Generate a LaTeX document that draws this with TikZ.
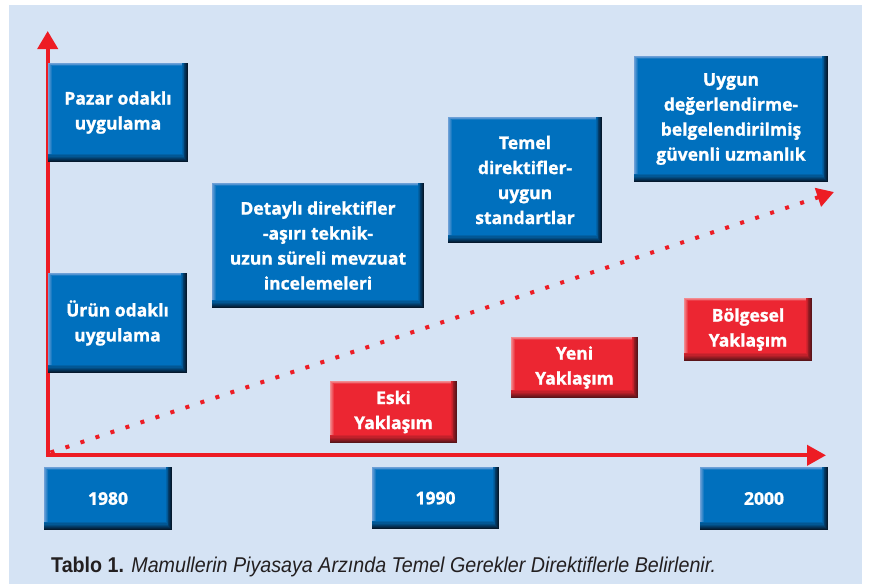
\documentclass[tikz,border=0pt]{standalone}
\usepackage{fontspec}
\usetikzlibrary{arrows.meta}
\newfontfamily\boxfam{Open Sans}[BoldFeatures={FakeBold=1.2}]
\newfontfamily\capfam{Liberation Sans}
\definecolor{bgblue}{RGB}{213,227,244}
\definecolor{boxblue}{RGB}{0,112,190}
\definecolor{boxlight}{RGB}{110,160,215}
\definecolor{boxdark}{RGB}{5,25,45}
\definecolor{boxred}{RGB}{236,38,50}
\definecolor{redlight}{RGB}{242,140,145}
\definecolor{reddark}{RGB}{90,20,25}
\definecolor{axisred}{RGB}{237,28,36}
\definecolor{capgray}{RGB}{35,31,32}
\newcommand\boxtext{\boxfam\bfseries\fontsize{17.5}{25}\selectfont}
\tikzset{
  bevelbox/.style n args={3}{rectangle, inner sep=0pt, text=white, align=center,
    font=\boxtext, fill=#1,
    path picture={
      \foreach \i in {0,...,7}{
        \pgfmathtruncatemacro\p{100*\i/7}
        \fill[#1!\p!#3] (path picture bounding box.north west) rectangle
          ([xshift=-0.9*\i pt, yshift=1.1*\i pt]path picture bounding box.south east);
      }
      \foreach \j in {0,...,4}{
        \pgfmathtruncatemacro\q{25*\j}
        \fill[#1!\q!#2] ([xshift=\j pt, yshift=-0.8*\j pt]path picture bounding box.north west) rectangle
          ([xshift=-6.3pt, yshift=7.7pt]path picture bounding box.south east);
      }
    }},
  bluebox/.style={bevelbox={boxblue}{boxlight}{boxdark}},
  redbox/.style={bevelbox={boxred}{redlight}{reddark}},
  axisline/.style={draw=axisred, line width=4pt, line join=miter,
    {Triangle[length=18pt,width=20pt]}-{Triangle[length=19pt,width=20pt]}},
  dotline/.style={draw=axisred, line width=4pt, dash pattern=on 4pt off 11.8pt,
    -{Triangle[length=17pt,width=19pt]}},
}
\begin{document}
\begin{tikzpicture}[x=1pt,y=-1pt]
\useasboundingbox (0,0) rectangle (872,584);
\fill[bgblue] (9,5) rectangle (862,584);
% axes
\coordinate (ytop) at (47.7,31);
\coordinate (orig) at (47.7,455.3);
\coordinate (xend) at (826,455.3);
\draw[axisline] (ytop) -- (orig) -- (xend);
\coordinate (dstart) at (50.5,452.5);
\coordinate (dend) at (834,192);
\draw[dotline] (dstart) -- (dend);
% blue boxes
\node[bluebox, minimum width=140pt, minimum height=99pt] (pazar) at (118,112.5) {Pazar odaklı\\uygulama};
\node[bluebox, minimum width=139pt, minimum height=100pt] (urun) at (117.5,323) {Ürün odaklı\\uygulama};
\node[bluebox, minimum width=212pt, minimum height=125pt] (detay) at (318,245.5) {Detaylı direktifler\\-aşırı teknik-\\uzun süreli mevzuat\\incelemeleri};
\node[bluebox, minimum width=154pt, minimum height=126pt] (temel) at (525,180) {Temel\\direktifler-\\uygun\\standartlar};
\node[bluebox, minimum width=194pt, minimum height=126pt] (uygun) at (731,119) {Uygun\\değerlendirme-\\belgelendirilmiş\\güvenli uzmanlık};
% red boxes
\node[redbox, minimum width=127pt, minimum height=62pt] (eski) at (393.5,412) {Eski\\Yaklaşım};
\node[redbox, minimum width=127pt, minimum height=61pt] (yeni) at (574.5,367.5) {Yeni\\Yaklaşım};
\node[redbox, minimum width=128pt, minimum height=63pt] (bolge) at (748,329.5) {Bölgesel\\Yaklaşım};
% years
\node[bluebox, minimum width=128pt, minimum height=63pt] (y1980) at (108,498.5) {1980};
\node[bluebox, minimum width=127pt, minimum height=62pt] (y1990) at (435.5,498) {1990};
\node[bluebox, minimum width=128pt, minimum height=63pt] (y2000) at (764,498.5) {2000};
% caption
\node[anchor=base west, inner sep=0pt, text=capgray] (cap) at (51,572.3)
  {\resizebox{665pt}{15.5pt}{\capfam\textbf{Tablo 1.} \textit{Mamullerin Piyasaya Arzında Temel Gerekler Direktiflerle Belirlenir.}}};
\end{tikzpicture}
\end{document}
